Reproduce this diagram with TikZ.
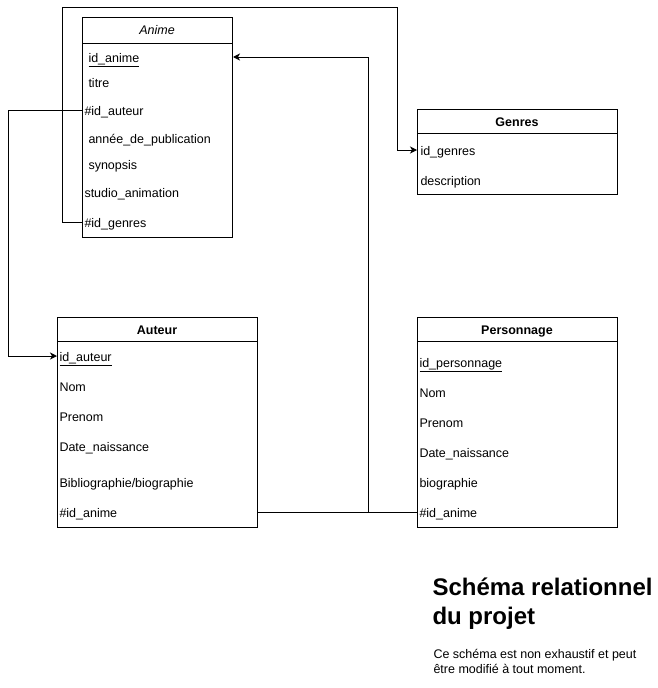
\documentclass[tikz,border=0pt]{standalone}
\usepackage{fontspec}
\setmainfont{Liberation Sans}
\usetikzlibrary{arrows.meta}

\begin{document}
\begin{tikzpicture}[x=1pt, y=-1pt, line width=1pt, line cap=butt, line join=miter,
  tbl/.style={draw, line width=1pt, anchor=north west, inner sep=0pt},
  head/.style={anchor=base, inner sep=0pt, font=\fontsize{12.5}{15}\selectfont},
  row/.style={anchor=west, inner sep=0pt, text height=10pt, text depth=0pt, font=\fontsize{12.5}{15}\selectfont},
  link/.style={line width=1pt, -{Stealth[length=7pt, width=7pt, inset=2pt]}},
  wire/.style={line width=1pt}]

  %% ════ 表框（四张表）════
  \node[tbl, minimum width=150pt, minimum height=220pt] (anime) at (82,17) {};        % box(82,17,150,220)
  \node[tbl, minimum width=200pt, minimum height=85pt] (genres) at (417,109) {};      % box(417,109,200,85)
  \node[tbl, minimum width=200pt, minimum height=210pt] (auteur) at (57,317) {};      % box(57,317,200,210)
  \node[tbl, minimum width=200pt, minimum height=210pt] (perso) at (417,317) {};      % box(417,317,200,210)

  %% ════ 表头分隔线 ════
  \draw (82,43) -- (232,43);
  \draw (417,133) -- (617,133);
  \draw (57,341) -- (257,341);
  \draw (417,341) -- (617,341);

  %% ════ 表头（基线定位）════
  \node[head] (animeT) at (157,34.5) {\textit{Anime}};
  \node[head] (genresT) at (517,126.5) {\textbf{Genres}};
  \node[head] (auteurT) at (157,334.5) {\textbf{Auteur}};
  \node[head] (persoT) at (517,334.5) {\textbf{Personnage}};

  %% ════ 字段：Anime ════
  \node[row] (aId) at (88,57) {\underline{id\_anime}};
  \node[row] (aTitre) at (88,82) {titre};
  \node[row] (aAuteur) at (84,110) {\#id\_auteur};
  \node[row] (aAnnee) at (88,138) {année\_de\_publication};
  \node[row] (aSyn) at (88,164) {synopsis};
  \node[row] (aStudio) at (84,192) {studio\_animation};
  \node[row] (aGenres) at (84,222) {\#id\_genres};

  %% ════ 字段：Genres ════
  \node[row] (gId) at (420,150) {id\_genres};
  \node[row] (gDesc) at (420,180) {description};

  %% ════ 字段：Auteur ════
  \node[row] (uId) at (59,356) {\underline{id\_auteur}};
  \node[row] (uNom) at (59,386) {Nom};
  \node[row] (uPrenom) at (59,416) {Prenom};
  \node[row] (uDate) at (59,446) {Date\_naissance};
  \node[row] (uBio) at (59,482) {Bibliographie/biographie};
  \node[row] (uAnime) at (59,512) {\#id\_anime};

  %% ════ 字段：Personnage ════
  \node[row] (pId) at (419,362) {\underline{id\_personnage}};
  \node[row] (pNom) at (419,392) {Nom};
  \node[row] (pPrenom) at (419,422) {Prenom};
  \node[row] (pDate) at (419,452) {Date\_naissance};
  \node[row] (pBio) at (419,482) {biographie};
  \node[row] (pAnime) at (419,512) {\#id\_anime};

  %% ════ 连线（外键 → 主键）════
  \draw[link] (anime.west |- aAuteur) -- (8,110) |- (auteur.west |- uId);
  \draw[link] (anime.west |- aGenres) -- (62,222) -- (62,7) -- (397,7) |- (genres.west |- gId);
  \draw[link] (auteur.east |- uAnime) -- (368,512) |- (anime.east |- aId);
  \draw[wire] (perso.west |- pAnime) -- (368,512);

  %% ════ 标题与说明 ════
  \node[anchor=north west, inner sep=0pt, align=left, font=\fontsize{24}{29}\selectfont\bfseries] (titre) at (432,577)
    {Schéma relationnel\\du projet};
  \node[anchor=north west, inner sep=0pt, align=left, font=\fontsize{12.5}{15}\selectfont] (note) at (433,649)
    {Ce schéma est non exhaustif et peut\\être modifié à tout moment.};

  % 钉死画布
  \pgfresetboundingbox
  \path[use as bounding box] (0,0) rectangle (658,688);
\end{tikzpicture}
\end{document}
